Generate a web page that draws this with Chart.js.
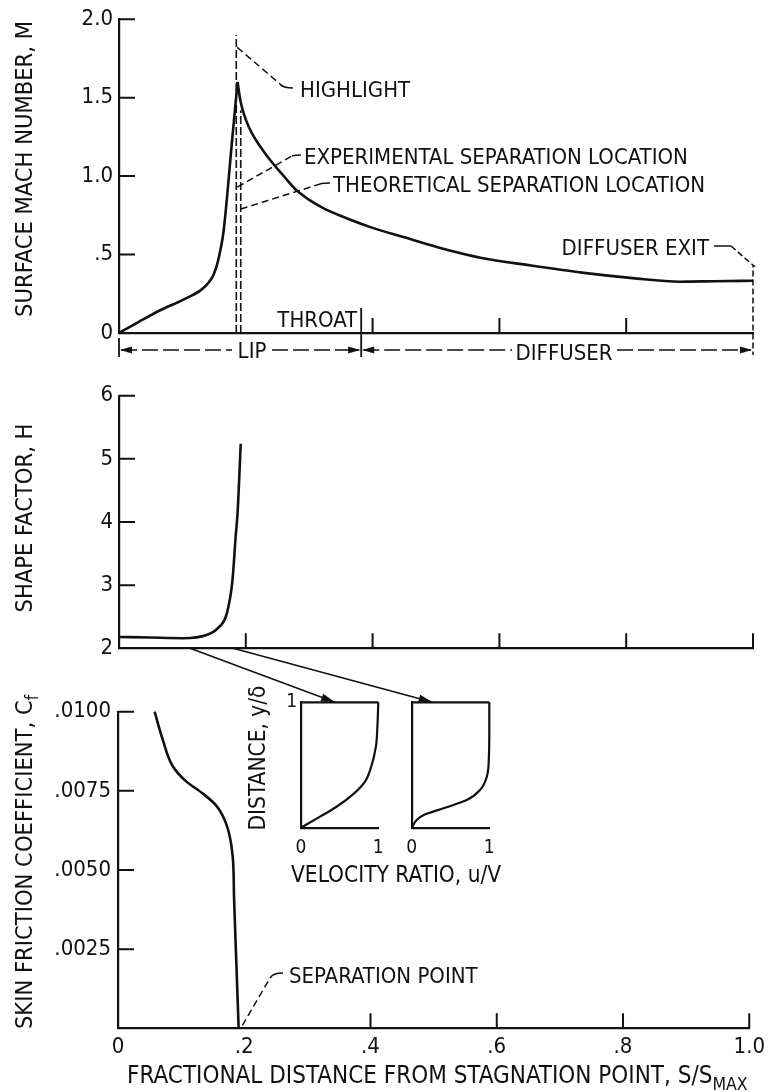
<!DOCTYPE html>
<html lang="en">
<head>
<meta charset="UTF-8">
<title>Inlet lip boundary layer: Mach number, shape factor, skin friction</title>
<script src="https://cdn.jsdelivr.net/npm/chart.js@4"></script>
<style>
  html, body { margin: 0; padding: 0; background: #fff; }
  #page { position: relative; width: 771px; height: 1092px; background: #fff; overflow: hidden; }
  #page canvas { position: absolute; left: 0; top: 0; }
</style>
</head>
<body>
<div id="page">
  <canvas id="mach" width="771" height="1092"></canvas>
  <canvas id="shape" width="771" height="1092"></canvas>
  <canvas id="friction" width="771" height="1092"></canvas>
  <canvas id="profileA" width="771" height="1092"></canvas>
  <canvas id="profileB" width="771" height="1092"></canvas>
</div>
<script>
  // --- data: fractional distance S/Smax along the surface ---
  const machS = [0, 0.03, 0.065, 0.10, 0.128, 0.14, 0.149, 0.155, 0.160, 0.165, 0.178, 0.187, 0.192, 0.20, 0.21, 0.235, 0.26, 0.28, 0.32, 0.36, 0.40, 0.45, 0.50, 0.57, 0.65, 0.73, 0.81, 0.885, 0.94, 1.0];
  const machM = [0, 0.068, 0.145, 0.21, 0.27, 0.315, 0.37, 0.44, 0.53, 0.65, 1.21, 1.60, 1.47, 1.36, 1.27, 1.12, 1.00, 0.91, 0.80, 0.73, 0.67, 0.61, 0.55, 0.48, 0.43, 0.385, 0.35, 0.327, 0.33, 0.333];

  const shapeS = [0, 0.049, 0.101, 0.138, 0.156, 0.170, 0.179, 0.184, 0.187, 0.192];
  const shapeH = [2.18, 2.17, 2.16, 2.21, 2.32, 2.55, 3.08, 3.77, 4.14, 5.24];

  const frictionS = [0.058, 0.071, 0.087, 0.108, 0.134, 0.155, 0.171, 0.1816, 0.1838, 0.1875, 0.1911];
  const frictionCf = [0.0100, 0.00911, 0.00827, 0.0078, 0.00742, 0.00705, 0.00648, 0.00545, 0.00416, 0.00205, 0];

  // velocity profiles u/V against y/delta at the two stations
  const profileAU = [0, 0.246, 0.46, 0.68, 0.83, 0.91, 0.97, 0.99, 1.0];
  const profileAY = [0, 0.088, 0.167, 0.27, 0.37, 0.49, 0.65, 0.83, 1.0];
  const profileBU = [0, 0.064, 0.15, 0.41, 0.71, 0.88, 0.97, 0.995, 1.0, 1.0];
  const profileBY = [0, 0.061, 0.10, 0.155, 0.22, 0.30, 0.41, 0.57, 0.78, 1.0];
  const profileStations = [0.112, 0.18];
  const profileArrowU = [0.44, 0.27];

  // marked stations
  const highlightS = 0.185;
  const separationS = 0.192;
  const throatS = 0.382;
  const exitS = 1.0;

  // ticks
  const sTicks = [0, 0.2, 0.4, 0.6, 0.8, 1.0];
  const sTickLabels = ['0', '.2', '.4', '.6', '.8', '1.0'];
  const machTicks = [0, 0.5, 1.0, 1.5, 2.0];
  const machTickLabels = ['0', '.5', '1.0', '1.5', '2.0'];
  const shapeTicks = [2, 3, 4, 5, 6];
  const shapeTickLabels = ['2', '3', '4', '5', '6'];
  const frictionTicks = [0.0025, 0.005, 0.0075, 0.01];
  const frictionTickLabels = ['.0025', '.0050', '.0075', '.0100'];
  const unitTicks = [0, 1];
  const unitTickLabels = ['0', '1'];

  const W = 771, H = 1092;
  const INK = '#111';
  const FAMILY = '"DejaVu Sans Condensed", "DejaVu Sans", sans-serif';
  const TICK_SIZE = 22, NOTE_SIZE = 22, TITLE_SIZE = 23.5;

  // ---------- drawing helpers ----------
  function text(ctx, str, x, y, size = NOTE_SIZE, align = 'left') {
    ctx.font = `${size}px ${FAMILY}`;
    ctx.textAlign = align;
    ctx.textBaseline = 'alphabetic';
    ctx.fillText(str, x, y);
  }

  // vertical title, reading bottom to top; parts = [[text, size, shift]]
  function vTitle(ctx, parts, x, yCenter) {
    ctx.save();
    ctx.translate(x, yCenter);
    ctx.rotate(-Math.PI / 2);
    ctx.textAlign = 'left';
    ctx.textBaseline = 'alphabetic';
    let total = 0;
    parts.forEach(([t, size]) => { ctx.font = `${size}px ${FAMILY}`; total += ctx.measureText(t).width; });
    let cx = -total / 2;
    parts.forEach(([t, size, shift]) => {
      ctx.font = `${size}px ${FAMILY}`;
      ctx.fillText(t, cx, shift || 0);
      cx += ctx.measureText(t).width;
    });
    ctx.restore();
  }

  function path(ctx, pts, dash = [], width = 1.6) {
    ctx.save();
    ctx.setLineDash(dash);
    ctx.lineWidth = width;
    ctx.beginPath();
    ctx.moveTo(pts[0][0], pts[0][1]);
    for (let i = 1; i < pts.length; i++) ctx.lineTo(pts[i][0], pts[i][1]);
    ctx.stroke();
    ctx.restore();
  }

  // dashed leader ending in a short hook toward its label
  function leader(ctx, from, bend, to) {
    ctx.save();
    ctx.setLineDash([7, 4]);
    ctx.lineWidth = 1.5;
    ctx.beginPath();
    ctx.moveTo(from[0], from[1]);
    ctx.lineTo(bend[0], bend[1]);
    ctx.stroke();
    ctx.setLineDash([]);
    ctx.beginPath();
    ctx.moveTo(bend[0], bend[1]);
    ctx.quadraticCurveTo(bend[0] + 3, to[1], to[0], to[1]);
    ctx.stroke();
    ctx.restore();
  }

  function arrowHead(ctx, tip, from, len = 12, half = 3.5) {
    const ang = Math.atan2(tip[1] - from[1], tip[0] - from[0]);
    ctx.save();
    ctx.translate(tip[0], tip[1]);
    ctx.rotate(ang);
    ctx.beginPath();
    ctx.moveTo(0, 0);
    ctx.lineTo(-len, -half);
    ctx.lineTo(-len, half);
    ctx.closePath();
    ctx.fill();
    ctx.restore();
  }

  // tick marks drawn inward from the axis lines
  function inwardTicks(chart, xValues, yValues, len = 15) {
    const { ctx, scales: { x, y }, chartArea: a } = chart;
    ctx.save();
    ctx.lineWidth = 2;
    ctx.beginPath();
    xValues.forEach(v => { const px = x.getPixelForValue(v); ctx.moveTo(px, a.bottom); ctx.lineTo(px, a.bottom - len); });
    yValues.forEach(v => { const py = y.getPixelForValue(v); ctx.moveTo(a.left, py); ctx.lineTo(a.left + len + 1, py); });
    ctx.stroke();
    ctx.restore();
  }

  // ---------- chart config builders ----------
  function linearAxis(min, max, values, labels, size, padding) {
    return {
      type: 'linear', min, max,
      afterBuildTicks: s => { s.ticks = values.map(v => ({ value: v })); },
      grid: { display: false, drawTicks: false },
      border: { display: true, color: INK, width: 2.2 },
      ticks: {
        display: !!labels, color: INK, padding, autoSkip: false, maxRotation: 0,
        font: { family: FAMILY, size },
        callback: (v, i) => labels ? labels[i] : ''
      }
    };
  }

  function panelOptions(area, xAxisH, xAxis, yAxis, extra = {}) {
    xAxis.afterFit = s => { s.height = xAxisH; };
    yAxis.afterFit = s => { s.width = area.left; };
    return Object.assign({
      responsive: false, animation: false, devicePixelRatio: 1, events: [],
      layout: { padding: { left: 0, top: area.top, right: W - area.right, bottom: H - area.bottom - xAxisH } },
      plugins: { legend: { display: false }, tooltip: { enabled: false } },
      scales: { x: xAxis, y: yAxis }
    }, extra);
  }

  function curve(xs, ys, width = 2.6) {
    return {
      data: xs.map((v, i) => ({ x: v, y: ys[i] })),
      borderColor: INK, borderWidth: width, pointRadius: 0,
      cubicInterpolationMode: 'monotone', fill: false, clip: false
    };
  }

  // ---------- surface Mach number ----------
  const machNotes = {
    id: 'machNotes',
    afterDraw(chart) {
      const { ctx, scales: { x, y }, chartArea: a } = chart;
      const xp = v => x.getPixelForValue(v), yp = v => y.getPixelForValue(v);
      const base = a.bottom;
      ctx.save();
      ctx.strokeStyle = INK;
      ctx.fillStyle = INK;
      inwardTicks(chart, [0.4, 0.6, 0.8], [0.5, 1.0, 1.5, 2.0], 15);

      const xh = xp(highlightS), xs = xp(separationS), xt = xp(throatS), xe = xp(exitS);
      path(ctx, [[xh, base], [xh, yp(1.9)]], [8, 3], 1.6);
      path(ctx, [[xs, base], [xs, yp(1.42)]], [8, 3], 1.6);

      leader(ctx, [xh + 1, yp(1.82)], [280, 84], [293, 88]);
      text(ctx, 'HIGHLIGHT', 300, 97);
      leader(ctx, [xh + 1, yp(0.93)], [292, 156], [301, 155]);
      text(ctx, 'EXPERIMENTAL SEPARATION LOCATION', 304, 163.5);
      leader(ctx, [xs, yp(0.79)], [320, 184], [330, 183]);
      text(ctx, 'THEORETICAL SEPARATION LOCATION', 333, 191.5);

      // diffuser exit
      text(ctx, 'DIFFUSER EXIT', 709, 255, NOTE_SIZE, 'right');
      path(ctx, [[714, 246], [731, 246]], [], 1.5);
      path(ctx, [[731, 246], [xe + 1, 266], [xe, 266], [xe, base + 22]], [6, 3], 1.5);

      // throat
      text(ctx, 'THROAT', xt - 4, 326.5, NOTE_SIZE, 'right');
      path(ctx, [[xt, 308], [xt, base + 24]], [], 1.8);

      // lip / diffuser extent arrows
      const yr = base + 17;
      path(ctx, [[xp(0), base + 5], [xp(0), base + 24]], [], 1.8);
      path(ctx, [[xp(0) + 2, yr], [232, yr]], [16, 5], 1.5);
      arrowHead(ctx, [xp(0) + 1, yr], [xp(0) + 20, yr]);
      text(ctx, 'LIP', 252, 358, NOTE_SIZE, 'center');
      path(ctx, [[272, yr], [xt - 2, yr]], [16, 5], 1.5);
      arrowHead(ctx, [xt - 1, yr], [xt - 20, yr]);
      path(ctx, [[xt + 2, yr], [512, yr]], [16, 5], 1.5);
      arrowHead(ctx, [xt + 1, yr], [xt + 20, yr]);
      text(ctx, 'DIFFUSER', 564, 360, NOTE_SIZE, 'center');
      path(ctx, [[617, yr], [xe - 2, yr]], [16, 5], 1.5);
      arrowHead(ctx, [xe - 1, yr], [xe - 20, yr]);

      vTitle(ctx, [['SURFACE MACH NUMBER, M', TITLE_SIZE]], 32, 169);
      ctx.restore();
    }
  };

  // split at the peak so each side keeps its own slope into the cusp
  const peak = machM.indexOf(Math.max(...machM));
  const machChart = new Chart(document.getElementById('mach'), {
    type: 'line',
    data: {
      datasets: [
        curve(machS.slice(0, peak + 1), machM.slice(0, peak + 1)),
        curve(machS.slice(peak), machM.slice(peak))
      ]
    },
    options: panelOptions(
      { left: 119, top: 15, right: 753, bottom: 333 }, 4,
      linearAxis(0, 1, sTicks, null, TICK_SIZE, 6),
      linearAxis(0, 2, machTicks, machTickLabels, TICK_SIZE, 6)
    ),
    plugins: [machNotes]
  });

  // ---------- shape factor ----------
  const shapeNotes = {
    id: 'shapeNotes',
    afterDraw(chart) {
      const { ctx } = chart;
      ctx.save();
      ctx.strokeStyle = INK;
      ctx.fillStyle = INK;
      inwardTicks(chart, [0.2, 0.4, 0.6, 0.8, 1.0], [3, 4, 5, 6], 15);
      vTitle(ctx, [['SHAPE FACTOR, H', TITLE_SIZE]], 32, 518);
      ctx.restore();
    }
  };

  const shapeChart = new Chart(document.getElementById('shape'), {
    type: 'line',
    data: { datasets: [curve(shapeS, shapeH)] },
    options: panelOptions(
      { left: 119, top: 395.7, right: 753, bottom: 648.3 }, 4,
      linearAxis(0, 1, sTicks, null, TICK_SIZE, 6),
      linearAxis(2, 6, shapeTicks, shapeTickLabels, TICK_SIZE, 6)
    ),
    plugins: [shapeNotes]
  });

  // ---------- skin friction ----------
  const frictionNotes = {
    id: 'frictionNotes',
    afterDraw(chart) {
      const { ctx, scales: { x }, chartArea: a } = chart;
      ctx.save();
      ctx.strokeStyle = INK;
      ctx.fillStyle = INK;
      inwardTicks(chart, [0.4, 0.6, 0.8, 1.0], frictionTicks, 15);

      leader(ctx, [x.getPixelForValue(0.197), a.bottom - 3], [270, 978], [283, 973]);
      text(ctx, 'SEPARATION POINT', 289, 983);

      // x title with subscript
      const main = 'FRACTIONAL DISTANCE FROM STAGNATION POINT, S/S';
      text(ctx, main, 127, 1083, 24);
      text(ctx, 'MAX', 127 + ctx.measureText(main).width, 1090, 17.5);

      vTitle(ctx, [['SKIN FRICTION COEFFICIENT, C', TITLE_SIZE], ['f', 17, 6]], 32, 862);
      ctx.restore();
    }
  };

  // Cf falls monotonically, so the spline runs along the value axis
  const frictionChart = new Chart(document.getElementById('friction'), {
    type: 'line',
    data: { datasets: [curve(frictionS, frictionCf)] },
    options: panelOptions(
      { left: 118, top: 711.7, right: 753, bottom: 1028.3 }, 36,
      linearAxis(0, 1, sTicks, sTickLabels, TICK_SIZE, 6),
      linearAxis(0, 0.01, frictionTicks, frictionTickLabels, TICK_SIZE, 7),
      { indexAxis: 'y' }
    ),
    plugins: [frictionNotes]
  });

  // ---------- velocity profile insets ----------
  function profileNotes(index, withTitles) {
    return {
      id: 'profileNotes' + index,
      afterDraw(chart) {
        const { ctx, scales: { x, y } } = chart;
        ctx.save();
        ctx.strokeStyle = INK;
        ctx.fillStyle = INK;
        // edge of the boundary layer, y = delta
        path(ctx, [[x.getPixelForValue(0), y.getPixelForValue(1)], [x.getPixelForValue(1), y.getPixelForValue(1)]], [], 2.2);

        // arrow from the station on the shape factor axis
        const sx = shapeChart.scales.x, sa = shapeChart.chartArea;
        const from = [sx.getPixelForValue(profileStations[index]), sa.bottom];
        const tip = [x.getPixelForValue(profileArrowU[index]), y.getPixelForValue(1)];
        path(ctx, [from, tip], [], 1.5);
        arrowHead(ctx, tip, from, 14, 4);

        if (withTitles) {
          vTitle(ctx, [['DISTANCE, y/\u03b4', TITLE_SIZE - 1]], 265, 758);
          text(ctx, 'VELOCITY RATIO, u/V', 291, 882, TITLE_SIZE - 1);
        }
        ctx.restore();
      }
    };
  }

  function profileChart(id, area, us, ys, index, withTitles) {
    const yAxis = withTitles
      ? linearAxis(0, 1, [1], ['1'], 19, 4)
      : linearAxis(0, 1, [1], null, 19, 4);
    return new Chart(document.getElementById(id), {
      type: 'line',
      data: { datasets: [curve(us, ys, 2.2)] },
      options: panelOptions(area, 30, linearAxis(0, 1, unitTicks, unitTickLabels, 19, 9), yAxis, { indexAxis: 'y' }),
      plugins: [profileNotes(index, withTitles)]
    });
  }

  profileChart('profileA', { left: 301, top: 702.3, right: 378.3, bottom: 827.7 }, profileAU, profileAY, 0, true);
  profileChart('profileB', { left: 411.7, top: 702.3, right: 489.3, bottom: 827.7 }, profileBU, profileBY, 1, false);
</script>
</body>
</html>
